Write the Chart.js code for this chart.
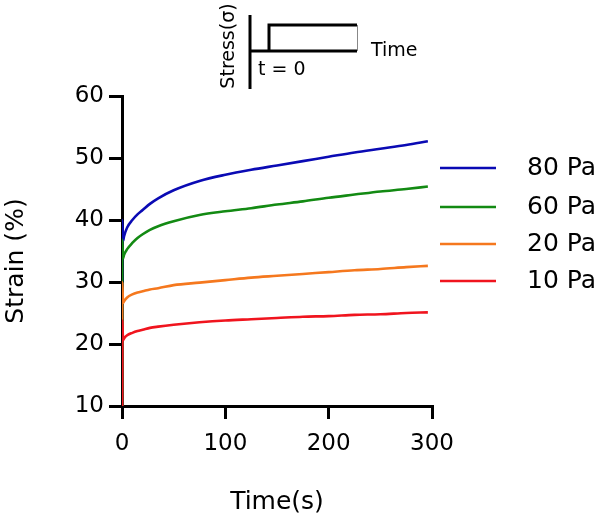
<!DOCTYPE html>
<html>
<head>
<meta charset="utf-8">
<script src="https://cdn.jsdelivr.net/npm/chart.js@4"></script>
<style>
  html, body { margin: 0; padding: 0; background: #fff; }
  #wrap { width: 603px; height: 517px; }
</style>
</head>
<body>
<div id="wrap"><canvas id="creepChart" width="603" height="517"></canvas></div>
<script>
// Creep curves: strain (%) vs time (s) for four applied stresses
const timeS   = [0, 0.3, 1, 2, 5, 10, 15, 20, 27, 35, 50, 75, 100, 125, 150, 175, 200, 225, 250, 275, 296];
const pa80    = [10, 40.0, 36.6, 37.4, 38.8, 40.0, 40.9, 41.6, 42.6, 43.5, 44.8, 46.3, 47.3, 48.1, 48.8, 49.5, 50.2, 50.9, 51.5, 52.1, 52.7];
const pa60    = [10, 36.8, 33.8, 34.4, 35.3, 36.3, 37.1, 37.7, 38.4, 39.0, 39.8, 40.8, 41.4, 41.9, 42.5, 43.0, 43.6, 44.1, 44.6, 45.0, 45.4];
const pa20    = [10, 30.0, 26.6, 26.9, 27.5, 28.0, 28.3, 28.5, 28.8, 29.0, 29.5, 29.9, 30.3, 30.7, 31.0, 31.3, 31.6, 31.9, 32.1, 32.4, 32.6];
const pa10    = [10, 23.8, 20.6, 20.9, 21.4, 21.8, 22.1, 22.3, 22.6, 22.8, 23.1, 23.5, 23.8, 24.0, 24.2, 24.4, 24.5, 24.7, 24.8, 25.0, 25.1];
const seriesNames = ['10 Pa', '20 Pa', '60 Pa', '80 Pa'];
const seriesColors = ['#f0141e', '#f5781e', '#138a13', '#0a0ab4'];
const xTicks = [0, 100, 200, 300];
const yTicks = [10, 20, 30, 40, 50, 60];

const FONT = 'DejaVu Sans';
Chart.defaults.font.family = FONT;
Chart.defaults.color = '#000';

function toPoints(vals) {
    return timeS.map((t, i) => ({ x: t, y: vals[i] }));
}

// red first so it is drawn on top of the others along t = 0
const datasets = [pa10, pa20, pa60, pa80].map((vals, i) => ({
    label: seriesNames[i],
    data: toPoints(vals),
    borderColor: seriesColors[i],
    backgroundColor: seriesColors[i],
    borderWidth: 2.6,
    pointRadius: 0,
    cubicInterpolationMode: 'monotone',
    fill: false
}));

// legend on the right, y title, and the small stress-step sketch at the top
const extrasPlugin = {
    id: 'extras',
    afterDraw(chart) {
        const ctx = chart.ctx;
        ctx.save();

        // legend, top to bottom: 80, 60, 20, 10
        const legendY = [168, 207, 244, 281];
        for (let k = 0; k < 4; k++) {
            const i = 3 - k;
            ctx.strokeStyle = seriesColors[i];
            ctx.lineWidth = 2.6;
            ctx.beginPath();
            ctx.moveTo(440, legendY[k]);
            ctx.lineTo(496, legendY[k]);
            ctx.stroke();
            ctx.fillStyle = '#000';
            ctx.font = '25px "' + FONT + '"';
            ctx.textAlign = 'left';
            ctx.textBaseline = 'middle';
            ctx.fillText(seriesNames[i], 527, legendY[k]);
        }

        // y axis title, sits a little below the plot's middle
        ctx.save();
        ctx.translate(16, 261);
        ctx.rotate(-Math.PI / 2);
        ctx.textAlign = 'center';
        ctx.textBaseline = 'middle';
        ctx.font = '25px "' + FONT + '"';
        ctx.fillText('Strain (%)', 0, 0);
        ctx.restore();

        // inset: stress step applied at t = 0
        ctx.strokeStyle = '#000';
        ctx.lineWidth = 3;
        ctx.beginPath();
        ctx.moveTo(250, 15);
        ctx.lineTo(250, 89);
        ctx.stroke();
        ctx.beginPath();
        ctx.moveTo(250, 51);
        ctx.lineTo(357, 51);
        ctx.stroke();
        ctx.beginPath();
        ctx.moveTo(269, 51);
        ctx.lineTo(269, 25);
        ctx.lineTo(357, 25);
        ctx.stroke();
        ctx.strokeStyle = '#888';
        ctx.lineWidth = 1;
        ctx.beginPath();
        ctx.moveTo(357.5, 25);
        ctx.lineTo(357.5, 51);
        ctx.stroke();

        ctx.fillStyle = '#000';
        ctx.font = '19px "' + FONT + '"';
        ctx.textBaseline = 'middle';
        ctx.textAlign = 'left';
        ctx.fillText('Time', 371, 51);
        ctx.fillText('t = 0', 258, 70);
        ctx.translate(229, 46);
        ctx.rotate(-Math.PI / 2);
        ctx.textAlign = 'center';
        ctx.fillText('Stress(σ)', 0, 0);
        ctx.restore();
    }
};

const axisGrid = {
    drawOnChartArea: false,
    drawTicks: true,
    tickLength: 13,
    tickWidth: 3,
    color: '#000',
    lineWidth: 3
};

new Chart(document.getElementById('creepChart'), {
    type: 'line',
    data: { datasets: datasets },
    plugins: [extrasPlugin],
    options: {
        responsive: false,
        animation: false,
        events: [],
        layout: { padding: { top: 96, right: 171, left: 0, bottom: 0 } },
        plugins: {
            legend: { display: false },
            tooltip: { enabled: false }
        },
        scales: {
            x: {
                type: 'linear',
                min: xTicks[0],
                max: xTicks[xTicks.length - 1],
                afterBuildTicks: s => { s.ticks = xTicks.map(v => ({ value: v })); },
                afterFit: s => { s.height = 111; },
                grid: axisGrid,
                border: { color: '#000', width: 3 },
                ticks: { font: { size: 23 }, padding: 11, maxRotation: 0 },
                title: { display: true, text: 'Time(s)', font: { size: 25 }, padding: { top: 0, bottom: 0 } }
            },
            y: {
                type: 'linear',
                min: yTicks[0],
                max: yTicks[yTicks.length - 1],
                afterBuildTicks: s => { s.ticks = yTicks.map(v => ({ value: v })); },
                afterFit: s => { s.width = 122; },
                grid: axisGrid,
                border: { color: '#000', width: 3 },
                ticks: { font: { size: 23 }, padding: 5 },
                title: { display: false }
            }
        }
    }
});
</script>
</body>
</html>
